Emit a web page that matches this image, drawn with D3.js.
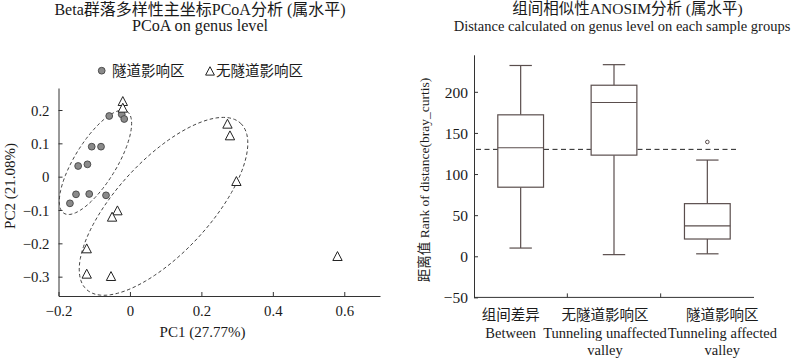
<!DOCTYPE html>
<html><head><meta charset="utf-8">
<script src="https://cdn.jsdelivr.net/npm/d3@7/dist/d3.min.js"></script>
<style>
body{margin:0;background:#fff;}
svg{display:block;}
text{font-family:"Liberation Serif","Times New Roman","Noto Sans CJK SC",serif;fill:#1a1a1a;}
</style></head>
<body><svg id="c" width="800" height="359"></svg>
<script>
// ---- PCoA data ----
const tunnelX = [-0.058, -0.023, -0.016, -0.107, -0.081, -0.145, -0.119, -0.151, -0.114, -0.067, -0.168];
const tunnelY = [0.182, 0.187, 0.173, 0.090, 0.090, 0.032, 0.037, -0.053, -0.052, -0.056, -0.080];
const noTunnelX = [-0.020, -0.020, 0.273, 0.280, 0.298, -0.035, -0.050, -0.121, -0.121, -0.053, 0.581];
const noTunnelY = [0.225, 0.205, 0.157, 0.122, -0.015, -0.103, -0.122, -0.217, -0.293, -0.300, -0.240];
// ellipse: centre x, centre y, axis A (x,y), axis B (x,y), data units
const ellipseTunnel = [-0.0965, 0.043, 0.088, 0.153, 0.050, -0.033];
const ellipseNoTunnel = [0.094, -0.089, 0.216, 0.249, 0.095, -0.096];
const pcoaXTicks = [-0.2, 0, 0.2, 0.4, 0.6];
const pcoaYTicks = [-0.3, -0.2, -0.1, 0, 0.1, 0.2];
const legendLabels = ["隧道影响区", "无隧道影响区"];

// ---- ANOSIM data ----
const boxCats = ["组间差异", "无隧道影响区", "隧道影响区"];
const boxEn = [["Between"], ["Tunneling unaffected", "valley"], ["Tunneling affected", "valley"]];
const whiskerLow = [10, 2, 3];
const q1 = [84, 123, 21];
const median = [132, 187, 37];
const q3 = [172, 208, 64];
const whiskerHigh = [232, 233, 117];
const outliers = [[], [], [139]];
const meanRank = 130;
const boxYTicks = [-50, 0, 50, 100, 150, 200];

const svg = d3.select("#c");
const fmt = v => (v < 0 ? "\u2212" : "") + Math.abs(v).toString();
const axisColor = "#333";
const latin = '"Liberation Serif","Times New Roman",serif';

// ================= LEFT: PCoA =================
const x1 = d3.scaleLinear().domain([-0.2, 0.7]).range([58.5, 380]);
const y1 = d3.scaleLinear().domain([-0.358, 0.266]).range([296, 88]);
const gL = svg.append("g");

gL.append("text").attr("x", 200).attr("y", 14.5).attr("text-anchor", "middle").attr("font-size", 16)
  .text("Beta群落多样性主坐标PCoA分析 (属水平)");
gL.append("text").attr("x", 200).attr("y", 30.5).attr("text-anchor", "middle").attr("font-size", 16.2)
  .text("PCoA on genus level");

const xAxL = gL.append("g").attr("transform", `translate(0,${y1.range()[0]})`)
  .call(d3.axisBottom(x1).tickValues(pcoaXTicks).tickSizeInner(-4).tickSizeOuter(0).tickPadding(9).tickFormat(fmt));
const yAxL = gL.append("g").attr("transform", `translate(${x1.range()[0]},0)`)
  .call(d3.axisLeft(y1).tickValues(pcoaYTicks).tickSizeInner(-4).tickSizeOuter(0).tickPadding(9).tickFormat(fmt));
[xAxL, yAxL].forEach(a => {
  a.selectAll("path").attr("stroke", axisColor);
  a.selectAll("line").attr("stroke", axisColor);
  a.selectAll("text").attr("font-size", 14.8).attr("fill", "#1a1a1a").attr("font-family", latin);
});
yAxL.selectAll("text").attr("dy", "0.35em");

gL.append("text").attr("x", 202.5).attr("y", 337).attr("text-anchor", "middle").attr("font-size", 15)
  .text("PC1 (27.77%)");
gL.append("text").attr("transform", "translate(15,186) rotate(-90)").attr("text-anchor", "middle").attr("font-size", 15)
  .text("PC2 (21.08%)");

// ellipses
function ellipsePath(e) {
  const pts = d3.range(0, 361, 3).map(d => {
    const t = d * Math.PI / 180;
    return [e[0] + e[2] * Math.cos(t) + e[4] * Math.sin(t), e[1] + e[3] * Math.cos(t) + e[5] * Math.sin(t)];
  });
  return d3.line().x(p => x1(p[0])).y(p => y1(p[1])).curve(d3.curveLinearClosed)(pts);
}
[ellipseTunnel, ellipseNoTunnel].forEach(e => {
  gL.append("path").attr("d", ellipsePath(e)).attr("fill", "none").attr("stroke", "#444")
    .attr("stroke-width", 1).attr("stroke-dasharray", "3.5,2.5");
});

const triPath = (cx, cy, s) => `M${cx},${cy - s * 0.6}L${cx + s * 0.55},${cy + s * 0.45}L${cx - s * 0.55},${cy + s * 0.45}Z`;

// points
gL.selectAll("circle.tun").data(tunnelX).join("circle").attr("class", "tun")
  .attr("cx", (d) => x1(d)).attr("cy", (d, i) => y1(tunnelY[i])).attr("r", 3.4)
  .attr("fill", "#8a8a8a").attr("stroke", "#444").attr("stroke-width", 0.9);
gL.selectAll("path.nt").data(noTunnelX).join("path").attr("class", "nt")
  .attr("d", (d, i) => triPath(x1(d), y1(noTunnelY[i]), 8.5))
  .attr("fill", "#fff").attr("stroke", "#222").attr("stroke-width", 1);

// legend
gL.append("circle").attr("cx", 101.7).attr("cy", 70.7).attr("r", 3.4).attr("fill", "#8a8a8a").attr("stroke", "#444").attr("stroke-width", 0.9);
gL.append("text").attr("x", 112).attr("y", 76).attr("font-size", 14.5).text(legendLabels[0]);
gL.append("path").attr("d", triPath(210, 71.5, 8)).attr("fill", "#fff").attr("stroke", "#222");
gL.append("text").attr("x", 216).attr("y", 76).attr("font-size", 14.5).text(legendLabels[1]);

// ================= RIGHT: ANOSIM =================
const x2 = d3.scaleBand().domain(boxCats).range([474, 754]).padding(0);
const y2 = d3.scaleLinear().domain([-50, 245]).range([297.4, 54.8]);
const gR = svg.append("g");

gR.append("text").attr("x", 627.5).attr("y", 14).attr("text-anchor", "middle").attr("font-size", 15.5)
  .text("组间相似性ANOSIM分析 (属水平)");
gR.append("text").attr("x", 622).attr("y", 30.5).attr("text-anchor", "middle").attr("font-size", 14.5)
  .text("Distance calculated on genus level on each sample groups");

const yAxR = gR.append("g").attr("transform", `translate(${x2.range()[0]},0)`)
  .call(d3.axisLeft(y2).tickValues(boxYTicks).tickSizeInner(-4).tickSizeOuter(0).tickPadding(6).tickFormat(fmt));
yAxR.selectAll("path").attr("stroke", axisColor);
yAxR.selectAll("line").attr("stroke", axisColor);
yAxR.selectAll("text").attr("font-size", 15.5).attr("fill", "#1a1a1a").attr("dy", "0.35em").attr("font-family", latin);

// x axis line + boundary ticks
const xBase = y2.range()[0];
gR.append("line").attr("x1", x2.range()[0]).attr("x2", x2.range()[1]).attr("y1", xBase).attr("y2", xBase).attr("stroke", axisColor);
boxCats.slice(1).forEach(c => {
  gR.append("line").attr("x1", x2(c)).attr("x2", x2(c)).attr("y1", xBase).attr("y2", xBase - 4).attr("stroke", axisColor);
});

// category labels
const labelDx = [-10, -9, 15];
boxCats.forEach((c, i) => {
  const cx = x2(c) + x2.bandwidth() / 2 + labelDx[i];
  gR.append("text").attr("x", cx).attr("y", 320).attr("text-anchor", "middle").attr("font-size", 14.5).text(c);
  boxEn[i].forEach((ln, j) => {
    gR.append("text").attr("x", cx).attr("y", 338 + j * 17).attr("text-anchor", "middle").attr("font-size", 14.5).text(ln);
  });
});

gR.append("text").attr("transform", "translate(429,180) rotate(-90)").attr("text-anchor", "middle").attr("font-size", 13.5)
  .text("距离值 Rank of distance(bray_curtis)");

// mean dashed line
gR.append("line").attr("x1", x2.range()[0] + 2).attr("x2", x2(boxCats[2]) + x2.bandwidth() * 0.82)
  .attr("y1", y2(meanRank)).attr("y2", y2(meanRank)).attr("stroke", "#222").attr("stroke-width", 1)
  .attr("stroke-dasharray", "5,3.5");

// boxes
const boxColor = "#5a4e4d";
const bw = x2.bandwidth() * 0.49, capW = x2.bandwidth() * 0.24;
boxCats.forEach((c, i) => {
  const cx = x2(c) + x2.bandwidth() / 2;
  const g = gR.append("g").attr("stroke", boxColor).attr("stroke-width", 1.2).attr("fill", "none");
  g.append("line").attr("x1", cx).attr("x2", cx).attr("y1", y2(whiskerHigh[i])).attr("y2", y2(q3[i]));
  g.append("line").attr("x1", cx).attr("x2", cx).attr("y1", y2(q1[i])).attr("y2", y2(whiskerLow[i]));
  g.append("line").attr("x1", cx - capW / 2).attr("x2", cx + capW / 2).attr("y1", y2(whiskerHigh[i])).attr("y2", y2(whiskerHigh[i]));
  g.append("line").attr("x1", cx - capW / 2).attr("x2", cx + capW / 2).attr("y1", y2(whiskerLow[i])).attr("y2", y2(whiskerLow[i]));
  g.append("rect").attr("x", cx - bw / 2).attr("width", bw).attr("y", y2(q3[i])).attr("height", y2(q1[i]) - y2(q3[i])).attr("fill", "#fff");
  g.append("line").attr("x1", cx - bw / 2).attr("x2", cx + bw / 2).attr("y1", y2(median[i])).attr("y2", y2(median[i]));
  outliers[i].forEach(o => {
    g.append("circle").attr("cx", cx).attr("cy", y2(o)).attr("r", 1.8).attr("stroke-width", 1);
  });
});
</script></body></html>
